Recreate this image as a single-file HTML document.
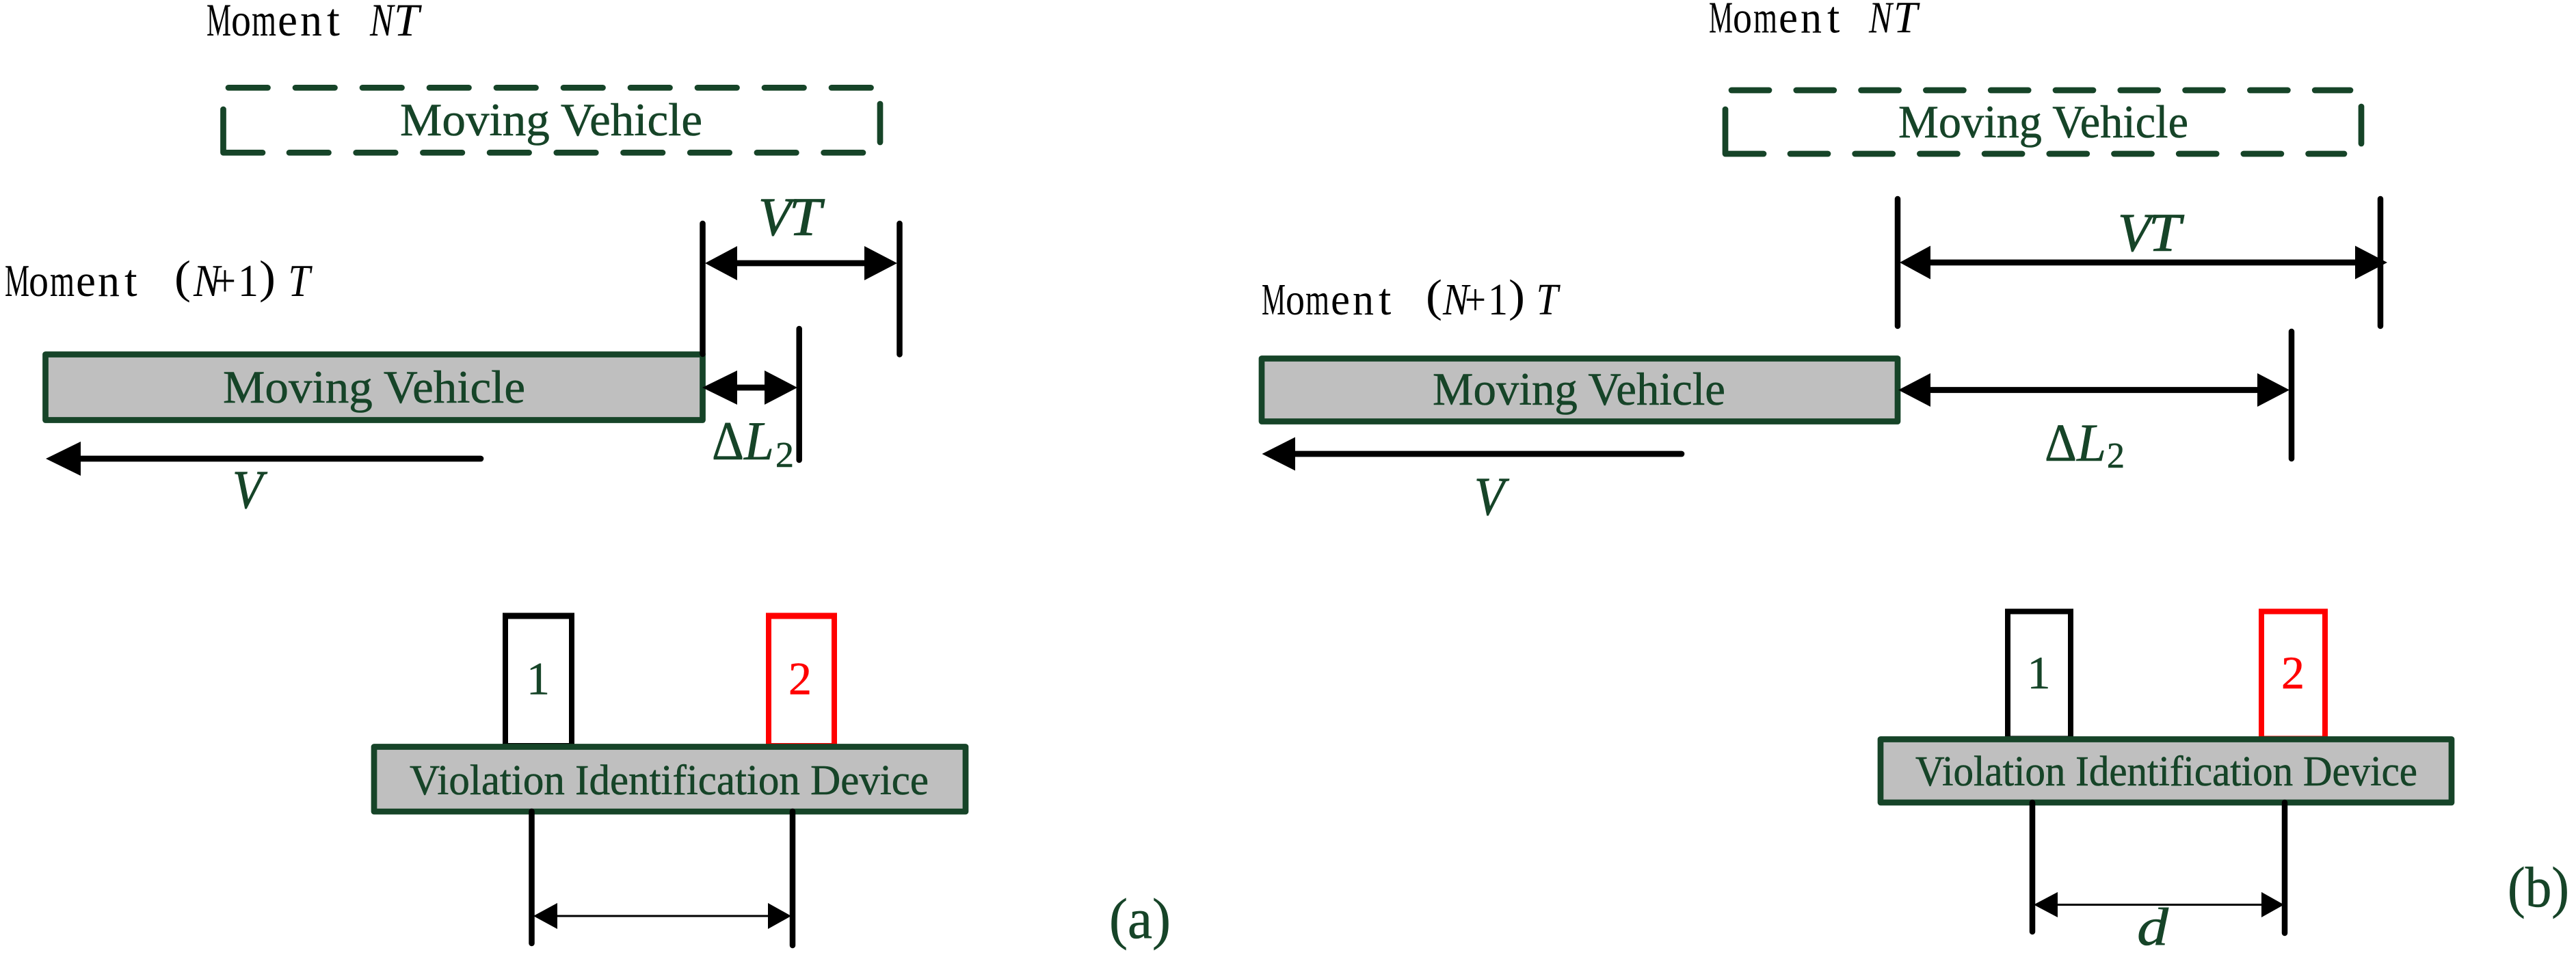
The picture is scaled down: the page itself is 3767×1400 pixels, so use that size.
<!DOCTYPE html>
<html>
<head>
<meta charset="utf-8">
<style>
html,body{margin:0;padding:0;background:#fff;}
svg{display:block;}
.s{font-family:"Liberation Serif",serif;fill:#164428;stroke:#164428;stroke-width:.6;}
.i{font-style:italic;}
.r{fill:#f00;stroke:#f00;}
.k{font-family:"Liberation Serif",serif;fill:#000;}
.g{fill:none;stroke:#164428;stroke-width:8.7;stroke-linecap:round;stroke-linejoin:round;}
.b{stroke:#000;stroke-width:8.5;stroke-linecap:round;fill:none;}
.t{stroke:#000;stroke-width:8.7;stroke-linecap:round;fill:none;}
.h{fill:#000;}
</style>
</head>
<body>
<svg xmlns="http://www.w3.org/2000/svg" width="3767" height="1400" viewBox="0 0 3767 1400">
<rect width="3767" height="1400" fill="#fff"/>

<!-- ============ (a) ============ -->
<g class="k" font-size="68">
<text x="302" y="52" textLength="36" lengthAdjust="spacingAndGlyphs">M</text>
<text x="338" y="52" textLength="29" lengthAdjust="spacingAndGlyphs">o</text>
<text x="368" y="52" textLength="36" lengthAdjust="spacingAndGlyphs">m</text>
<text x="406" y="52" textLength="29" lengthAdjust="spacingAndGlyphs">e</text>
<text x="439" y="52" textLength="32" lengthAdjust="spacingAndGlyphs">n</text>
<text x="478" y="52">t</text>
<text class="i" x="541" y="52" textLength="34.5" lengthAdjust="spacingAndGlyphs">N</text>
<text class="i" x="576" y="52" textLength="37" lengthAdjust="spacingAndGlyphs">T</text>
</g>

<path class="g" d="M334 128.3H1275" stroke-dasharray="57.5 40.5"/>
<path class="g" d="M326.5 160V223.3H384"/>
<path class="g" d="M423 223.3H1262" stroke-dasharray="57.5 40.2"/>
<path class="g" d="M1287 152V208"/>
<text class="s" x="585" y="198" font-size="68" textLength="442" lengthAdjust="spacingAndGlyphs">Moving Vehicle</text>

<text class="s i" x="1109" y="344" font-size="79" textLength="48" lengthAdjust="spacingAndGlyphs" style="stroke-width:1">V</text>
<text class="s i" x="1154" y="344" font-size="79" textLength="47" lengthAdjust="spacingAndGlyphs" style="stroke-width:1">T</text>
<path class="b" d="M1315.5 327V518.5"/>
<path class="t" d="M1075 385H1268"/>
<polygon class="h" points="1031,385 1078,360 1078,410"/>
<polygon class="h" points="1312,385 1264,360 1264,410"/>

<g class="k" font-size="67">
<text x="7" y="433" textLength="36" lengthAdjust="spacingAndGlyphs">M</text>
<text x="42" y="433" textLength="29" lengthAdjust="spacingAndGlyphs">o</text>
<text x="73" y="433" textLength="36" lengthAdjust="spacingAndGlyphs">m</text>
<text x="111" y="433" textLength="29" lengthAdjust="spacingAndGlyphs">e</text>
<text x="143" y="433" textLength="32" lengthAdjust="spacingAndGlyphs">n</text>
<text x="182" y="433">t</text>
<text x="255" y="428" font-size="68" textLength="24" lengthAdjust="spacingAndGlyphs">(</text>
<text class="i" x="283" y="433" textLength="39" lengthAdjust="spacingAndGlyphs">N</text>
<text x="313" y="433" textLength="32" lengthAdjust="spacingAndGlyphs">+</text>
<text x="348" y="433" textLength="30" lengthAdjust="spacingAndGlyphs">1</text>
<text x="379" y="428" font-size="68" textLength="24" lengthAdjust="spacingAndGlyphs">)</text>
<text class="i" x="421.5" y="433" textLength="32" lengthAdjust="spacingAndGlyphs">T</text>
</g>

<rect class="g" x="66.5" y="518.5" width="961" height="96" style="fill:#bfbfbf"/>
<path class="b" d="M1027.5 327V518"/>
<text class="s" x="326" y="589" font-size="68" textLength="442" lengthAdjust="spacingAndGlyphs">Moving Vehicle</text>

<path class="t" d="M1075 567H1120"/>
<polygon class="h" points="1027,567 1078,542 1078,592"/>
<polygon class="h" points="1166,567 1118,542 1118,592"/>
<path class="b" d="M1168.7 481V673"/>
<text class="s" x="1041" y="672" font-size="80" textLength="47" lengthAdjust="spacingAndGlyphs">Δ</text>
<text class="s i" x="1088" y="672" font-size="80" textLength="44" lengthAdjust="spacingAndGlyphs">L</text>
<text class="s" x="1134" y="683" font-size="53" textLength="27" lengthAdjust="spacingAndGlyphs">2</text>

<path class="t" d="M115 671H703"/>
<polygon class="h" points="67,671 118,646 118,696"/>
<text class="s i" x="340" y="743" font-size="79" textLength="44" lengthAdjust="spacingAndGlyphs" style="stroke-width:1">V</text>

<rect x="739" y="901" width="97" height="190" fill="#fff" stroke="#000" stroke-width="8"/>
<rect x="735" y="896.5" width="105" height="9" fill="#000"/>
<rect x="1124" y="901" width="96" height="190" fill="#fff" stroke="#f00" stroke-width="8"/>
<rect x="1120" y="896.5" width="104" height="9" fill="#f00"/>
<text class="s" x="787" y="1015.5" font-size="68" text-anchor="middle">1</text>
<text class="s r" x="1170" y="1015.5" font-size="68" text-anchor="middle">2</text>

<rect class="g" x="547" y="1092.5" width="865" height="94.7" style="fill:#bfbfbf"/>
<text class="s" x="599" y="1162" font-size="62" textLength="759" lengthAdjust="spacingAndGlyphs">Violation Identification Device</text>

<path class="b" d="M777.5 1187V1380"/>
<path class="b" d="M1159 1187V1383"/>
<path d="M810 1340H1128" stroke="#000" stroke-width="3" fill="none"/>
<polygon class="h" points="780,1340 815,1321 815,1359"/>
<polygon class="h" points="1157,1340 1123,1321 1123,1359"/>

<text class="s" x="1622" y="1372" font-size="84" textLength="90" lengthAdjust="spacingAndGlyphs">(a)</text>

<!-- ============ (b) ============ -->
<g class="k" font-size="66">
<text x="2499" y="47.5" textLength="35" lengthAdjust="spacingAndGlyphs">M</text>
<text x="2534" y="47.5" textLength="28" lengthAdjust="spacingAndGlyphs">o</text>
<text x="2564" y="47.5" textLength="35" lengthAdjust="spacingAndGlyphs">m</text>
<text x="2601" y="47.5" textLength="28" lengthAdjust="spacingAndGlyphs">e</text>
<text x="2633" y="47.5" textLength="31" lengthAdjust="spacingAndGlyphs">n</text>
<text x="2672" y="47.5">t</text>
<text class="i" x="2733" y="47.5" textLength="34" lengthAdjust="spacingAndGlyphs">N</text>
<text class="i" x="2769" y="47.5" textLength="35" lengthAdjust="spacingAndGlyphs">T</text>
</g>

<path class="g" d="M2532 132H3437" stroke-dasharray="55 39.8"/>
<path class="g" d="M2523 160V225H2579"/>
<path class="g" d="M2618 225H3428" stroke-dasharray="55 39.7"/>
<path class="g" d="M3453 156V210"/>
<text class="s" x="2776" y="201" font-size="68" textLength="424" lengthAdjust="spacingAndGlyphs">Moving Vehicle</text>

<path class="b" d="M2775 291V477"/>
<path class="b" d="M3481 291V477"/>
<text class="s i" x="3097" y="367" font-size="79" textLength="48" lengthAdjust="spacingAndGlyphs" style="stroke-width:1">V</text>
<text class="s i" x="3142" y="367" font-size="79" textLength="47" lengthAdjust="spacingAndGlyphs" style="stroke-width:1">T</text>
<path class="t" d="M2820 384H3448"/>
<polygon class="h" points="2778,384 2823,359.5 2823,408.5"/>
<polygon class="h" points="3491,384 3444,359.5 3444,408.5"/>

<g class="k" font-size="66">
<text x="1845" y="460" textLength="35" lengthAdjust="spacingAndGlyphs">M</text>
<text x="1880" y="460" textLength="28" lengthAdjust="spacingAndGlyphs">o</text>
<text x="1909" y="460" textLength="35" lengthAdjust="spacingAndGlyphs">m</text>
<text x="1946" y="460" textLength="28" lengthAdjust="spacingAndGlyphs">e</text>
<text x="1978" y="460" textLength="31" lengthAdjust="spacingAndGlyphs">n</text>
<text x="2016" y="460">t</text>
<text x="2085" y="455" font-size="67" textLength="24" lengthAdjust="spacingAndGlyphs">(</text>
<text class="i" x="2110" y="460" textLength="38" lengthAdjust="spacingAndGlyphs">N</text>
<text x="2142" y="460" textLength="31" lengthAdjust="spacingAndGlyphs">+</text>
<text x="2176" y="460" textLength="29" lengthAdjust="spacingAndGlyphs">1</text>
<text x="2206" y="455" font-size="67" textLength="24" lengthAdjust="spacingAndGlyphs">)</text>
<text class="i" x="2246.5" y="460" textLength="32" lengthAdjust="spacingAndGlyphs">T</text>
</g>

<rect class="g" x="1845" y="524.5" width="930" height="92" style="fill:#bfbfbf"/>
<text class="s" x="2095" y="592" font-size="68" textLength="428" lengthAdjust="spacingAndGlyphs">Moving Vehicle</text>

<path class="t" d="M2820 570.5H3305"/>
<polygon class="h" points="2776,570.5 2823,546 2823,595"/>
<polygon class="h" points="3348,570.5 3301,546 3301,595"/>
<path class="b" d="M3351 485V671"/>
<text class="s" x="2990" y="674" font-size="78" textLength="47" lengthAdjust="spacingAndGlyphs">Δ</text>
<text class="s i" x="3037" y="674" font-size="78" textLength="43" lengthAdjust="spacingAndGlyphs">L</text>
<text class="s" x="3081" y="684" font-size="53" textLength="26" lengthAdjust="spacingAndGlyphs">2</text>

<path class="t" d="M1890 664H2459"/>
<polygon class="h" points="1845.5,664 1894,639.5 1894,688.5"/>
<text class="s i" x="2156" y="753" font-size="79" textLength="44" lengthAdjust="spacingAndGlyphs" style="stroke-width:1">V</text>

<rect x="2936" y="894.5" width="92" height="186" fill="#fff" stroke="#000" stroke-width="8"/>
<rect x="3307" y="894.5" width="93" height="186" fill="#fff" stroke="#f00" stroke-width="8"/>
<text class="s" x="2981.5" y="1007" font-size="68" text-anchor="middle">1</text>
<text class="s r" x="3353" y="1007" font-size="68" text-anchor="middle">2</text>

<rect class="g" x="2750" y="1081.5" width="835" height="92.5" style="fill:#bfbfbf"/>
<text class="s" x="2801" y="1149" font-size="62" textLength="734" lengthAdjust="spacingAndGlyphs">Violation Identification Device</text>

<path class="b" d="M2972 1174V1363"/>
<path class="b" d="M3341 1174V1365"/>
<path d="M3005 1323.5H3312" stroke="#000" stroke-width="3" fill="none"/>
<polygon class="h" points="2974,1323.5 3009,1305 3009,1342"/>
<polygon class="h" points="3340,1323.5 3307,1305 3307,1342"/>
<text class="s i" x="3125" y="1382" font-size="78" textLength="46" lengthAdjust="spacingAndGlyphs">d</text>

<text class="s" x="3667" y="1326" font-size="84" textLength="90" lengthAdjust="spacingAndGlyphs">(b)</text>
</svg>
</body>
</html>
